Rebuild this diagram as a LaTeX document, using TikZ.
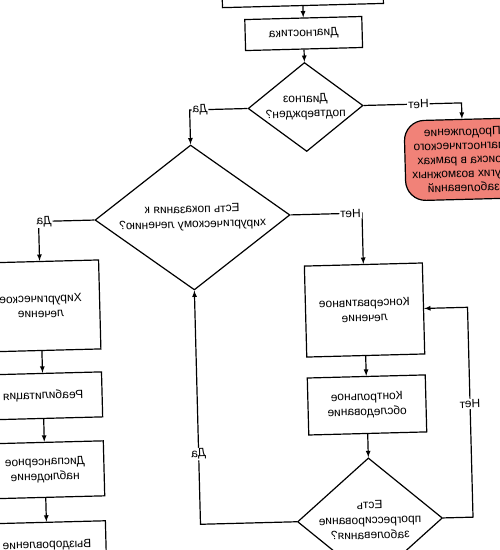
\documentclass[tikz,border=0pt]{standalone}
\usepackage{fontspec}
\setmainfont{Liberation Sans}
\usetikzlibrary{arrows,positioning,shapes.geometric}
\definecolor{salmon}{RGB}{241,130,120}

\begin{document}
\begin{tikzpicture}[x=1pt, y=-1pt, >=latex, line width=1.2pt,
		every node/.style={font=\fontsize{12}{15}\selectfont, align=center, xscale=-1},
		box/.style={draw, minimum width=118pt, inner sep=2pt},
		decision/.style={draw, diamond, inner sep=-12pt},
		lbl/.style={fill=white, inner sep=1pt}]
	\useasboundingbox (0,0) rectangle (500,550);
	\clip (0,0) rectangle (500,550);
	\begin{scope}[rotate around={1.5:(250,275)}, transform shape]
		\node (top) [box, minimum width=161pt, minimum height=30pt] at (310,-8) {};
		\node (diag) [box, minimum width=117pt, minimum height=31pt, below of=top, node distance=43pt] {Диагностика};
		\node (confirmed) [decision, minimum width=115pt, minimum height=89pt, below of=diag, node distance=73.5pt] {Диагноз\\подтвержден?};
		\node (search) [draw, fill=salmon, rounded corners=20pt, minimum width=116pt, minimum height=80pt, font=\fontsize{12}{14}\selectfont] at (466,165) {Продолжение\\диагностического\\поиска в рамках\\других возможных\\заболеваний};
		
		\node (surgical) [decision, minimum width=195pt, minimum height=145pt] at (194,216) {Есть показания к\\хирургическому лечению?};
		
		\node (oper) [box, minimum height=89pt] at (40,300.5) {Хирургическое\\лечение};
		\node (rehab) [box, minimum height=45pt, below of=oper, node distance=90pt] {Реабилитация};
		\node (dispensary) [box, minimum height=55pt, below of=rehab, node distance=74pt] {Диспансерное\\наблюдение};
		\node (recovery) [box, minimum height=46pt, below of=dispensary, node distance=75.5pt] {Выздоровление};
		
		\node (cons) [box, minimum height=91pt] at (363.6,313) {Консервативное\\лечение};
		\node (ctrl) [box, minimum height=57pt, below of=cons, node distance=95pt] {Контрольное\\обследование};
		\node (prog) [decision, minimum width=145pt, minimum height=124pt, below of=ctrl, node distance=115pt] {Есть\\прогрессирование\\заболевания?};
		
		% Arrows
		\draw[->] (top) -- (diag);
		\draw[->] (diag) -- (confirmed);
		\draw[->] (confirmed.west) -| node[lbl, pos=0.28] {Нет} (search.north);
		\draw[->] (confirmed.east) -| node[lbl, pos=0.41] {Да} (surgical.north);
		\draw[->] (surgical.west) -| node[lbl, pos=0.42] {Нет} (cons.north);
		\draw[->] (surgical.east) -| node[lbl, pos=0.45] {Да} (oper.north);
		\draw[->] (oper) -- (rehab);
		\draw[->] (rehab) -- (dispensary);
		\draw[->] (dispensary) -- (recovery);
		\draw[->] (cons) -- (ctrl);
		\draw[->] (ctrl) -- (prog);
		\draw[->] (prog.west) -- ++(30,0) |- node[lbl, pos=0.27] {Нет} (cons.west);
		\draw[->] (prog.east) -| node[lbl, pos=0.65] {Да} (surgical.south);
	\end{scope}
\end{tikzpicture}
\end{document}
